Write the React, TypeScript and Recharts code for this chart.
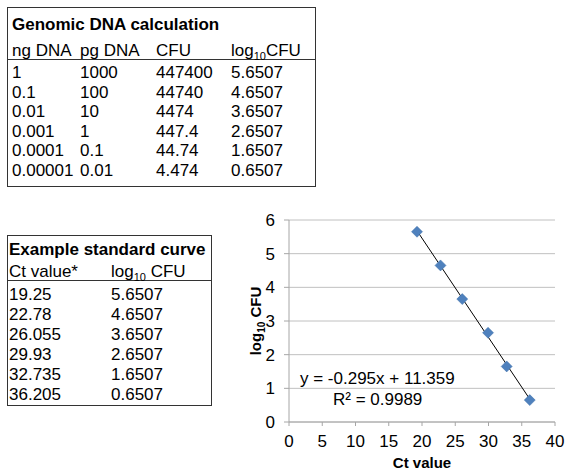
import React from "react";
import {
  ScatterChart,
  Scatter,
  XAxis,
  YAxis,
  CartesianGrid,
} from "recharts";

// genomic DNA table
const ngDna = ["1", "0.1", "0.01", "0.001", "0.0001", "0.00001"];
const pgDna = ["1000", "100", "10", "1", "0.1", "0.01"];
const cfu = ["447400", "44740", "4474", "447.4", "44.74", "4.474"];
const logCfu = ["5.6507", "4.6507", "3.6507", "2.6507", "1.6507", "0.6507"];

// standard curve (table + scatter)
const ctValues = [19.25, 22.78, 26.055, 29.93, 32.735, 36.205];
const ctLabels = ["19.25", "22.78", "26.055", "29.93", "32.735", "36.205"];
const logValues = [5.6507, 4.6507, 3.6507, 2.6507, 1.6507, 0.6507];

// linear trendline end points
const trendX = [19.25, 36.205];
const trendY = [5.68, 0.68];

const xTicks = [0, 5, 10, 15, 20, 25, 30, 35, 40];
const yTicks = [0, 1, 2, 3, 4, 5, 6];

const equation = "y = -0.295x + 11.359";
const rSquared = "R² = 0.9989";

const FONT = '"Liberation Sans", Arial, Helvetica, sans-serif';
const BLUE = "#4f81bd";
const BORDER = "#333";

const points = ctValues.map((x, i) => ({ x, y: logValues[i] }));
const trend = trendX.map((x, i) => ({ x, y: trendY[i] }));

const Diamond = (props: any) => {
  const { cx, cy } = props;
  if (cx == null || cy == null) return <g />;
  const r = 5.5;
  return (
    <polygon
      points={`${cx},${cy - r} ${cx + r},${cy} ${cx},${cy + r} ${cx - r},${cy}`}
      fill={BLUE}
      stroke="#3d6ea8"
      strokeWidth={0.5}
    />
  );
};

const Log10 = ({ sub = 11 }: { sub?: number }) => (
  <>
    log
    <tspan fontSize={sub} dy={4}>
      10
    </tspan>
    <tspan dy={-4}>CFU</tspan>
  </>
);

const XLabel = (props: any) => {
  const { x, y, width } = props.viewBox;
  return (
    <text
      x={x + width / 2}
      y={y + 46}
      textAnchor="middle"
      fontFamily={FONT}
      fontSize={15}
      fontWeight="bold"
      fill="#000"
    >
      Ct value
    </text>
  );
};

const YLabel = (props: any) => {
  const { y, height } = props.viewBox;
  const cx = 31;
  const cy = y + height / 2;
  return (
    <text
      x={cx}
      y={cy}
      transform={`rotate(-90 ${cx} ${cy})`}
      textAnchor="middle"
      fontFamily={FONT}
      fontSize={15}
      fontWeight="bold"
      fill="#000"
    >
      log
      <tspan fontSize={10} dy={4}>
        10
      </tspan>
      <tspan dy={-4}> CFU</tspan>
    </text>
  );
};

function Tables() {
  const t = { fontFamily: FONT, fontSize: 17, fill: "#000" };
  const rows1 = [78, 97.6, 117.2, 136.8, 156.4, 176];
  const cols1 = [12, 80, 156, 231];
  const rows2 = [300, 320, 340, 360, 380, 400];
  return (
    <svg
      width={567}
      height={471}
      style={{ position: "absolute", left: 0, top: 0, pointerEvents: "none" }}
    >
      {/* genomic DNA calculation */}
      <rect x={7.5} y={7.5} width={308} height={179} fill="none" stroke={BORDER} />
      <line x1={8} x2={315} y1={59.5} y2={59.5} stroke={BORDER} />
      <text {...t} x={12} y={30} fontWeight="bold">
        Genomic DNA calculation
      </text>
      <text {...t} x={cols1[0]} y={56}>ng DNA</text>
      <text {...t} x={cols1[1]} y={56}>pg DNA</text>
      <text {...t} x={cols1[2]} y={56}>CFU</text>
      <text {...t} x={cols1[3]} y={56}>
        <Log10 />
      </text>
      {ngDna.map((v, i) => (
        <g key={v}>
          <text {...t} x={cols1[0]} y={rows1[i]}>{v}</text>
          <text {...t} x={cols1[1]} y={rows1[i]}>{pgDna[i]}</text>
          <text {...t} x={cols1[2]} y={rows1[i]}>{cfu[i]}</text>
          <text {...t} x={cols1[3]} y={rows1[i]}>{logCfu[i]}</text>
        </g>
      ))}

      {/* example standard curve */}
      <rect x={7.5} y={235.5} width={204} height={170} fill="none" stroke={BORDER} />
      <line x1={8} x2={211} y1={280.5} y2={280.5} stroke={BORDER} />
      <text {...t} x={9} y={255} fontWeight="bold">
        Example standard curve
      </text>
      <text {...t} x={9} y={277}>Ct value*</text>
      <text {...t} x={111} y={277}>
        log
        <tspan fontSize={11} dy={4}>
          10
        </tspan>
        <tspan dy={-4}> CFU</tspan>
      </text>
      {ctLabels.map((v, i) => (
        <g key={v}>
          <text {...t} x={9} y={rows2[i]}>{v}</text>
          <text {...t} x={111} y={rows2[i]}>{logCfu[i]}</text>
        </g>
      ))}

      {/* trendline annotation */}
      <text {...t} x={300} y={384}>{equation}</text>
      <text {...t} x={333} y={405}>{rSquared}</text>
    </svg>
  );
}

export default function App() {
  const tick = { fontFamily: FONT, fontSize: 17, fill: "#000" };
  return (
    <div
      style={{
        position: "absolute",
        left: 0,
        top: 0,
        width: 567,
        height: 471,
        background: "#fff",
        overflow: "hidden",
      }}
    >
      <div style={{ position: "absolute", left: 230, top: 200 }}>
        <ScatterChart
          width={337}
          height={271}
          margin={{ top: 20, right: 12, left: 0, bottom: 0 }}
        >
          <CartesianGrid vertical={false} stroke="#c0c0c0" />
          <XAxis
            type="number"
            dataKey="x"
            domain={[0, 40]}
            ticks={xTicks}
            interval={0}
            height={49}
            tick={tick}
            tickSize={4}
            tickMargin={9}
            stroke="#a6a6a6"
            label={{ content: XLabel }}
          />
          <YAxis
            type="number"
            dataKey="y"
            domain={[0, 6]}
            ticks={yTicks}
            interval={0}
            width={59}
            tick={tick}
            tickSize={5}
            tickMargin={9}
            stroke="#a6a6a6"
            label={{ content: YLabel }}
          />
          <Scatter
            data={trend}
            line={{ stroke: "#000", strokeWidth: 1 }}
            shape={() => <g />}
            isAnimationActive={false}
          />
          <Scatter data={points} shape={Diamond} isAnimationActive={false} />
        </ScatterChart>
      </div>
      <Tables />
    </div>
  );
}
